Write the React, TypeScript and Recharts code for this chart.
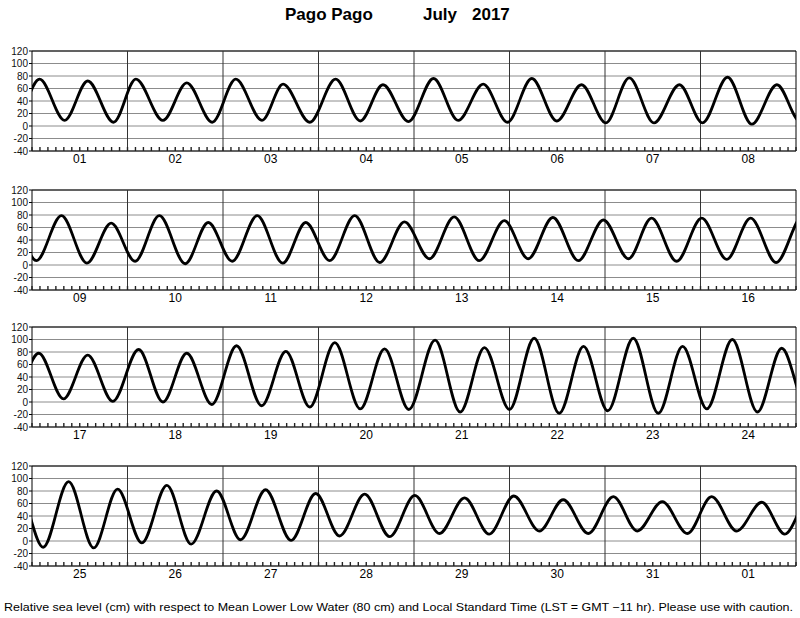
import { LineChart, Line, XAxis, YAxis, CartesianGrid, ReferenceLine, ReferenceArea } from 'recharts';

// day labels, 4 panels x 8 days
const DAY_LABELS = [
  '01', '02', '03', '04', '05', '06', '07', '08',
  '09', '10', '11', '12', '13', '14', '15', '16',
  '17', '18', '19', '20', '21', '22', '23', '24',
  '25', '26', '27', '28', '29', '30', '31', '01',
];

// predicted highs / lows: hours since 1 July 00:00 LST
const TIDE_HOURS = [
  -10.8, -4.3,
  1.9, 8.2, 14.0, 20.5, 26.1, 32.9, 38.9, 45.3, 51.2, 57.8, 63.1, 69.8, 76.3, 82.5,
  88.2, 94.6, 100.9, 107.1, 113.4, 119.5, 125.6, 131.9, 138.1, 144.2, 150.1, 156.3, 162.7, 168.5, 174.8, 180.9,
  187.2, 193.1, 199.4, 205.8, 211.9, 217.9, 224.0, 230.5, 236.3, 242.3, 248.6, 255.0, 260.8, 266.8, 273.1, 279.4,
  285.6, 291.9, 298.1, 304.4, 310.7, 316.7, 322.9, 329.3, 335.6, 341.9, 347.7, 354.0, 360.3, 366.6, 372.6, 379.0,
  385.7, 391.9, 398.0, 404.3, 410.8, 416.9, 422.9, 429.2, 435.4, 441.7, 447.8, 453.8, 460.1, 466.5, 472.6, 478.7,
  485.3, 491.6, 497.7, 504.0, 510.2, 516.5, 522.6, 528.7, 535.1, 541.4, 547.5, 553.6, 560.0, 566.3, 572.4, 578.8,
  585.2, 591.5, 597.5, 603.6, 609.9, 616.0, 622.4, 628.4, 634.7, 641.1, 647.3, 653.3, 659.6, 665.9, 672.2, 678.4,
  684.7, 690.9, 697.1, 703.5, 709.5, 715.8, 722.1, 728.1, 734.4, 740.7, 746.8, 753.1, 759.4, 765.2, 771.5, 777.7,
];

// sea level (cm) at each high / low
const TIDE_CM = [
  66, 8,
  75, 9, 72, 6, 75, 9, 69, 6, 75, 9, 67, 6, 75, 8,
  66, 7, 76, 9, 67, 6, 76, 8, 66, 5, 77, 5, 66, 5, 78, 3,
  66, 7, 79, 3, 67, 6, 79, 2, 68, 6, 79, 3, 68, 7, 79, 4,
  69, 10, 77, 7, 71, 10, 76, 7, 72, 10, 75, 6, 75, 9, 75, 4,
  78, 5, 75, 1, 84, 0, 78, -4, 90, -6, 81, -8, 95, -11, 85, -12,
  99, -16, 87, -12, 102, -18, 89, -14, 102, -18, 89, -11, 100, -16, 86, -10,
  95, -11, 83, -3, 89, -5, 80, 2, 82, 1, 76, 8, 75, 7, 73, 12,
  69, 11, 72, 16, 66, 12, 71, 16, 63, 12, 71, 16, 62, 11, 72, 14,
];

const Y_TICKS = [-40, -20, 0, 20, 40, 60, 80, 100, 120];

const FONT = '"Liberation Sans", Arial, Helvetica, sans-serif';
const DAYS_PER_PANEL = 8;
const PANEL_TOPS = [51, 190, 327, 466];
const PLOT_H = 100;
const TOP_PAD = 5;

const data = TIDE_HOURS.map((t, i) => ({ t, cm: TIDE_CM[i] }));

function TidePanel({ panel }: { panel: number }) {
  const firstDay = panel * DAYS_PER_PANEL;
  const x0 = firstDay * 24;
  const x1 = x0 + DAYS_PER_PANEL * 24;

  const hourTicks: number[] = [];
  for (let h = x0; h <= x1; h += 2) hourTicks.push(h);
  const dayLines: number[] = [];
  for (let d = 1; d < DAYS_PER_PANEL; d++) dayLines.push(x0 + d * 24);

  const renderTick = (props: any) => {
    const { x, y, payload } = props;
    const rel = payload.value - x0;
    const label = rel % 24 === 12 ? DAY_LABELS[firstDay + Math.floor(rel / 24)] : null;
    return (
      <g>
        <line x1={x} x2={x} y1={y} y2={y - 4} stroke="#222" strokeWidth={1.4} />
        {label && (
          <text x={x} y={y + 12} textAnchor="middle" fontSize={12} fontFamily={FONT} fill="#000">
            {label}
          </text>
        )}
      </g>
    );
  };

  return (
    <div style={{ position: 'absolute', left: 0, top: PANEL_TOPS[panel] - TOP_PAD }}>
      <LineChart
        width={800}
        height={TOP_PAD + PLOT_H + 20}
        data={data}
        margin={{ top: TOP_PAD, right: 4, bottom: 0, left: 0 }}
      >
        <CartesianGrid horizontal vertical={false} stroke="#8c8c8c" strokeWidth={1} />
        <XAxis
          dataKey="t"
          type="number"
          domain={[x0, x1]}
          allowDataOverflow
          ticks={hourTicks}
          interval={0}
          tick={renderTick}
          tickLine={false}
          tickSize={0}
          tickMargin={0}
          axisLine={false}
          height={20}
        />
        <YAxis
          type="number"
          domain={[-40, 120]}
          ticks={Y_TICKS}
          interval={0}
          width={32}
          tickSize={3}
          tickMargin={1}
          axisLine={false}
          tickLine={{ stroke: '#000' }}
          tick={{ fontSize: 10, fill: '#111', fontFamily: FONT }}
        />
        {dayLines.map(d => (
          <ReferenceLine key={d} x={d} stroke="#333" strokeWidth={1} />
        ))}
        <ReferenceArea x1={x0} x2={x1} y1={-40} y2={120} fill="none" stroke="#000" strokeWidth={1} />
        <Line
          type="monotone"
          dataKey="cm"
          stroke="#000"
          strokeWidth={2.8}
          dot={false}
          isAnimationActive={false}
        />
      </LineChart>
    </div>
  );
}

export default function App() {
  return (
    <div style={{ position: 'absolute', left: 0, top: 0, width: 800, height: 618, background: '#fff' }}>
      <svg width={800} height={618} style={{ position: 'absolute', left: 0, top: 0 }}>
        <text x={285} y={20} fontSize={17} fontWeight="bold" fontFamily={FONT} fill="#000">Pago Pago</text>
        <text x={423} y={20} fontSize={17} fontWeight="bold" fontFamily={FONT} fill="#000">July</text>
        <text x={472} y={20} fontSize={17} fontWeight="bold" fontFamily={FONT} fill="#000">2017</text>
        <text
          x={4}
          y={611}
          fontSize={11.5}
          fontFamily={FONT}
          fill="#000"
          textLength={789}
          lengthAdjust="spacingAndGlyphs"
        >
          Relative sea level (cm) with respect to Mean Lower Low Water (80 cm) and Local Standard Time (LST = GMT −11 hr). Please use with caution.
        </text>
      </svg>
      {[0, 1, 2, 3].map(p => (
        <TidePanel key={p} panel={p} />
      ))}
    </div>
  );
}
